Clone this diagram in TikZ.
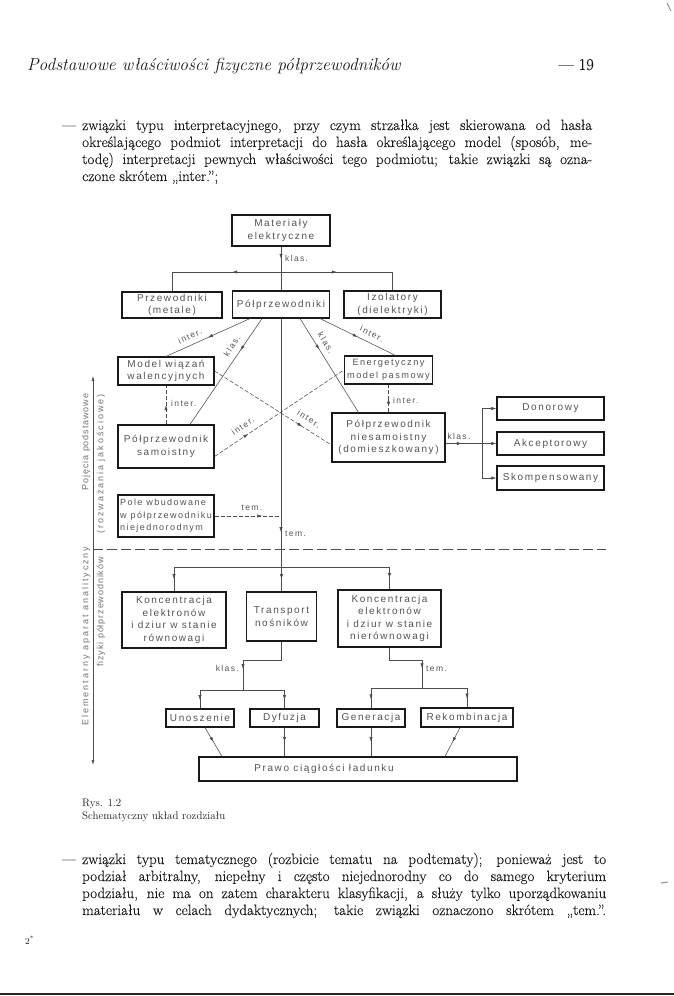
\documentclass[tikz,border=0pt]{standalone}
\usepackage{fontspec}
\usepackage{graphicx}
\usetikzlibrary{arrows.meta,decorations.markings}
\newfontfamily\boxfont[LetterSpace=16]{Liberation Sans}
\newfontfamily\axfont[LetterSpace=22]{Liberation Sans}
\newfontfamily\axfontb[LetterSpace=10]{Liberation Sans}
\newfontfamily\bodyrm{Latin Modern Roman}[FakeBold=0.12]
\newcommand\justline[2]{\setbox0\hbox{#2}\ifdim\wd0>#1\relax\resizebox{#1}{!}{\box0}\else\makebox[#1][s]{#2}\fi}
\definecolor{ink}{gray}{0.1}
\definecolor{boxink}{gray}{0.33}
\definecolor{lineink}{gray}{0.3}
\definecolor{axink}{gray}{0.45}
\begin{document}
\begin{tikzpicture}[x=1pt,y=-1pt,
 box/.style={draw=ink, line width=1.1pt, text=boxink, font=\boxfont\fontsize{10}{12.5}\selectfont, align=center, inner sep=0pt},
 lbl/.style={text=boxink, font=\boxfont\fontsize{8.5}{10}\selectfont, inner sep=1pt},
 axl/.style={text=axink, font=\axfont\fontsize{9}{10}\selectfont, inner sep=0pt},
 conn/.style={draw=lineink, line width=0.55pt},
 dconn/.style={conn, dash pattern=on 4pt off 2pt},
 arrowat/.style={postaction={decorate}, decoration={markings, mark=at position #1 with {\arrow{Latex[length=5pt,width=3.2pt]}}}},
 tipend/.style={-{Latex[length=5pt,width=3.2pt]}},
 txt/.style={anchor=base west, inner sep=0pt, text=ink, font=\bodyrm\fontsize{15}{17}\selectfont},
 captxt/.style={anchor=base west, inner sep=0pt, text=ink, font=\fontsize{11}{13}\selectfont},
]
\fill[white] (0,0) rectangle (674,996);
\useasboundingbox (0,0) rectangle (674,996);

% running head
\node[anchor=base west, inner sep=0pt, text=ink, font=\fontsize{17.4}{20}\selectfont\itshape] (hdr) at (27,70) {Podstawowe właściwości fizyczne półprzewodników};
\node[anchor=base east, inner sep=0pt, text=ink, font=\bodyrm\fontsize{16.5}{18}\selectfont] (pgno) at (594,70) {— 19};

% top paragraph
\node[txt] (d1) at (62,130) {—};
\node[txt] (t1) at (82,130) {\justline{510pt}{związki typu interpretacyjnego, przy czym strzałka jest skierowana od hasła}};
\node[txt] (t2) at (82,147) {\justline{510pt}{określającego podmiot interpretacji do hasła określającego model (sposób, me-}};
\node[txt] (t3) at (82,164) {\justline{510pt}{todę) interpretacji pewnych właściwości tego podmiotu; takie związki są ozna-}};
\node[txt] (t4) at (82,181) {czone skrótem „inter.”;};

% boxes
\node[box, minimum width=98pt, minimum height=31pt] (mat) at (281,230.5) {Materiały\\elektryczne};
\node[box, minimum width=100pt, minimum height=26pt] (prz) at (172,305) {Przewodniki\\(metale)};
\node[box, minimum width=97pt, minimum height=27pt] (polp) at (281,304.5) {Półprzewodniki};
\node[box, minimum width=97pt, minimum height=27pt] (izo) at (392.5,304.5) {Izolatory\\(dielektryki)};
\node[box, minimum width=96pt, minimum height=28pt] (model) at (166,371) {Model wiązań\\walencyjnych};
\node[box, minimum width=88pt, minimum height=28pt, font=\boxfont\fontsize{9.2}{12.5}\selectfont] (energ) at (388.5,370) {Energetyczny\\model pasmowy};
\node[box, minimum width=96pt, minimum height=43pt] (samo) at (166,446.5) {Półprzewodnik\\samoistny};
\node[box, minimum width=113pt, minimum height=49pt] (niesamo) at (388.5,437.5) {Półprzewodnik\\niesamoistny\\(domieszkowany)};
\node[box, minimum width=107pt, minimum height=23pt] (don) at (550.5,408.5) {Donorowy};
\node[box, minimum width=107pt, minimum height=23pt] (akc) at (550.5,443.5) {Akceptorowy};
\node[box, minimum width=107pt, minimum height=24pt] (skom) at (550.5,478) {Skompensowany};
\node[box, minimum width=96pt, minimum height=42pt, align=left, font=\boxfont\fontsize{9}{12.5}\selectfont] (pole) at (166,516) {Pole wbudowane\\w półprzewodniku\\niejednorodnym};
\node[box, minimum width=104pt, minimum height=56pt] (konc1) at (174,620) {Koncentracja\\elektronów\\i dziur w stanie\\równowagi};
\node[box, minimum width=70pt, minimum height=49pt] (trans) at (281.5,616.5) {Transport\\nośników};
\node[box, minimum width=103pt, minimum height=57pt] (konc2) at (389.5,618.5) {Koncentracja\\elektronów\\i dziur w stanie\\nierównowagi};
\node[box, minimum width=68pt, minimum height=18pt] (unos) at (200,718) {Unoszenie};
\node[box, minimum width=69pt, minimum height=18pt] (dyf) at (284.5,718) {Dyfuzja};
\node[box, minimum width=68pt, minimum height=18pt] (gen) at (371,718) {Generacja};
\node[box, minimum width=92pt, minimum height=19pt] (rek) at (467,717.5) {Rekombinacja};
\node[box, minimum width=318pt, minimum height=24pt] (prawo) at (358,769) {};
\node[text=boxink, font=\boxfont\fontsize{10}{12}\selectfont, inner sep=0pt] (prawotxt) at (324,769) {Prawo ciągłości ładunku};

% junctions
\coordinate (jT) at (281,272);
\coordinate (jk) at (482,443.5);
\coordinate (jm) at (281,567);
\coordinate (jt1) at (243,660);
\coordinate (jt2) at (243,690);
\coordinate (jg1) at (422,660);
\coordinate (jg2) at (422,688);

% top classification
\draw[conn, arrowat=0.28] (mat.south) -- (polp.north);
\node[lbl, anchor=west] (l1) at (284,258) {klas.};
\draw[conn, arrowat=0.38] (jT) -| (prz.north);
\draw[conn, arrowat=0.43] (jT) -| (izo.north);

% from Polprzewodniki
\draw[conn, arrowat=0.5] ([xshift=-31pt]polp.south) -- (model.north);
\node[lbl, rotate=25] (l2) at (190,336) {inter.};
\draw[conn, arrowat=0.3] ([xshift=-19pt]polp.south) -- ([xshift=24pt]samo.north);
\node[lbl, rotate=56] (l3) at (232,346) {klas.};
\draw[conn, arrowat=0.33] ([xshift=19pt]polp.south) -- ([xshift=-30pt]niesamo.north);
\node[lbl, rotate=-58] (l4) at (326,343) {klas.};
\draw[conn, arrowat=0.5] ([xshift=39pt]polp.south) -- ([xshift=7pt]energ.north);
\node[lbl, rotate=-27] (l5) at (372,334) {inter.};

% interpretation links
\draw[dconn, arrowat=0.5] (samo.north) -- (model.south);
\node[lbl, anchor=west] (l6) at (170,403) {inter.};
\draw[dconn, arrowat=0.5] (niesamo.north) -- (energ.south);
\node[lbl, anchor=west] (l7) at (392,400) {inter.};
\draw[dconn, arrowat=0.75] (model.east) -- ([yshift=-7.5pt]niesamo.west);
\node[lbl, rotate=-32] (l8) at (309,419) {inter.};
\draw[dconn, arrowat=0.26] ([yshift=-10pt]samo.east) -- (energ.west);
\node[lbl, rotate=34] (l9) at (243,426) {inter.};

% doping classification
\draw[conn, arrowat=0.45] (niesamo.east |- jk) -- (jk);
\node[lbl, anchor=south] (l10) at (459,441) {klas.};
\draw[conn, tipend] (jk) -- (akc.west);
\draw[conn, tipend] (jk) |- (don.west);
\draw[conn, tipend] (jk) |- (skom.west);

% thematic links
\draw[dconn, arrowat=0.72] (pole.east) -- (pole.east -| jm);
\node[lbl, anchor=south] (l11) at (252,512) {tem.};
\draw[conn, arrowat=0.86] (polp.south) -- (jm);
\node[lbl, anchor=west] (l12) at (284,534) {tem.};

% left axis
\coordinate (axT) at (93,376);
\coordinate (axB) at (93,765);
\draw[conn, {Latex[length=5pt,width=3pt]}-{Latex[length=5pt,width=3pt]}] (axT) -- (axB);
\node[axl, rotate=90, font=\axfontb\fontsize{9}{10}\selectfont] (ax1) at (86,442) {Pojęcia podstawowe};
\node[axl, rotate=90] (ax2) at (101,464) {(rozważania jakościowe)};
\node[axl, rotate=90] (ax3) at (86,636) {Elementarny aparat analityczny};
\node[axl, rotate=90, font=\axfontb\fontsize{9}{10}\selectfont] (ax4) at (101,612) {fizyki półprzewodników};

% separator
\coordinate (sepL) at (93,549);
\coordinate (sepR) at (606,549);
\draw[draw=lineink, line width=0.6pt, dash pattern=on 10pt off 4pt] (sepL) -- (sepR);

% lower section
\draw[conn] (konc1.north |- jm) -- (konc2.north |- jm);
\draw[conn, arrowat=0.5] (konc1.north |- jm) -- (konc1.north);
\draw[conn, arrowat=0.5] (trans.north |- jm) -- (trans.north);
\draw[conn, arrowat=0.5] (konc2.north |- jm) -- (konc2.north);

\draw[conn] (trans.south) |- (jt1);
\draw[conn, arrowat=0.3] (jt1) -- (jt2);
\node[lbl, anchor=east] (l13) at (240,668) {klas.};
\draw[conn] (unos.north |- jt2) -- (dyf.north |- jt2);
\draw[conn, arrowat=0.55] (unos.north |- jt2) -- (unos.north);
\draw[conn, arrowat=0.55] (dyf.north |- jt2) -- (dyf.north);

\draw[conn] (konc2.south) |- (jg1);
\draw[conn, arrowat=0.3] (jg1) -- (jg2);
\node[lbl, anchor=west] (l14) at (425,669) {tem.};
\draw[conn] (gen.north |- jg2) -- (rek.north |- jg2);
\draw[conn, arrowat=0.55] (gen.north |- jg2) -- (gen.north);
\draw[conn, arrowat=0.55] (rek.north |- jg2) -- (rek.north);

\draw[conn, arrowat=0.5] ([xshift=5pt]unos.south) -- ([xshift=-136pt]prawo.north);
\draw[conn, arrowat=0.5] (dyf.south) -- (dyf.south |- prawo.north);
\draw[conn, arrowat=0.5] (gen.south) -- (gen.south |- prawo.north);
\draw[conn, arrowat=0.5] ([xshift=-7pt]rek.south) -- ([xshift=87pt]prawo.north);

% caption
\node[captxt] (c1) at (82,806) {Rys. 1.2};
\node[captxt] (c2) at (82,819) {Schematyczny układ rozdziału};

% bottom paragraph
\node[txt] (d2) at (62,864) {—};
\node[txt] (b1) at (82,864) {\justline{524pt}{związki typu tematycznego (rozbicie tematu na podtematy); ponieważ jest to}};
\node[txt] (b2) at (82,881) {\justline{524pt}{podział arbitralny, niepełny i często niejednorodny co do samego kryterium}};
\node[txt] (b3) at (82,898) {\justline{524pt}{podziału, nie ma on zatem charakteru klasyfikacji, a służy tylko uporządkowaniu}};
\node[txt] (b4) at (82,915) {\justline{524pt}{materiału w celach dydaktycznych; takie związki oznaczono skrótem „tem.”.}};

\node[anchor=base west, inner sep=0pt, text=ink, font=\fontsize{9}{10}\selectfont] (sig) at (25,944) {2\textsuperscript{*}};

% scan edge and specks
\draw[black!85, line width=2.5pt] (0,994) -- (674,994);
\draw[black!50, line width=0.8pt] (667,3) -- (671,11);
\draw[black!45, line width=1pt] (661,883) -- (668,882);
\end{tikzpicture}
\end{document}
